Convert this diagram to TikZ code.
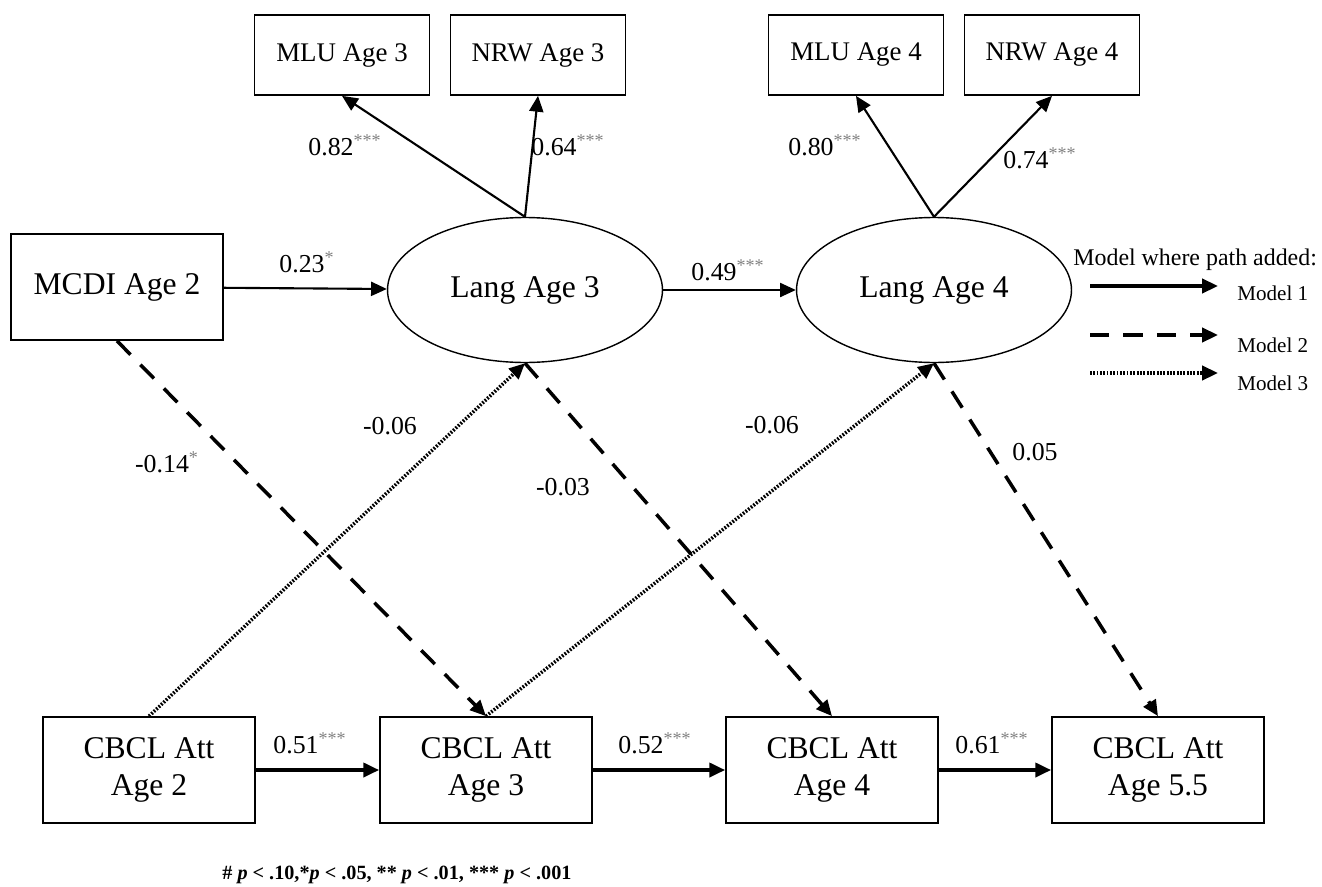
\documentclass[tikz,border=0pt]{standalone}
\usepackage{fontspec}
\setmainfont{Liberation Serif}
\usetikzlibrary{shapes.geometric,arrows.meta}
\newcommand{\stars}[1]{\textsuperscript{\color{gray}#1}}
\begin{document}
\begin{tikzpicture}[x=0.02cm, y=-0.02cm, >={Triangle[length=9pt,width=8pt]},
  box/.style={draw, line width=1pt, minimum width=4.24cm, minimum height=2.12cm, align=center, font=\fontsize{18}{21}\selectfont},
  smallbox/.style={draw, line width=1pt, minimum width=3.5cm, minimum height=1.6cm, font=\fontsize{15.3}{18}\selectfont},
  latent/.style={draw, ellipse, line width=0.8pt, minimum width=5.5cm, minimum height=2.9cm, inner sep=0pt, font=\fontsize{18}{21}\selectfont},
  coef/.style={inner sep=0pt, font=\fontsize{14.7}{17}\selectfont},
  model1/.style={->, line width=1.2pt},
  model1 thick/.style={->, line width=2pt},
  model2/.style={->, line width=2pt, dash pattern=on 11pt off 8pt},
  model3/.style={->, line width=2pt, dash pattern=on 1pt off 0.9pt}]
\useasboundingbox (0,0) rectangle (1322,886);
\node[smallbox] (mlu3) at (342,55) {MLU Age 3};
\node[smallbox] (nrw3) at (538,55) {NRW Age 3};
\node[smallbox] (mlu4) at (856,55) {MLU Age 4};
\node[smallbox] (nrw4) at (1052,55) {NRW Age 4};
\node[latent] (lang3) at (525,290) {Lang Age 3};
\node[latent] (lang4) at (934,290) {Lang Age 4};
\node[box] (mcdi) at (117,287) {MCDI Age 2};
\node[box] (cbcl2) at (149,770) {CBCL Att\\Age 2};
\node[box] (cbcl3) at (486,770) {CBCL Att\\Age 3};
\node[box] (cbcl4) at (832,770) {CBCL Att\\Age 4};
\node[box] (cbcl55) at (1158,770) {CBCL Att\\Age 5.5};
\node[coef] (c82) at (345,145) {0.82\stars{***}};
\node[coef] (c64) at (568,145) {0.64\stars{***}};
\node[coef] (c80) at (825,145) {0.80\stars{***}};
\node[coef] (c74) at (1040,158) {0.74\stars{***}};
\node[coef] (c23) at (307,262) {0.23\stars{*}};
\node[coef] (c49) at (728,270) {0.49\stars{***}};
\node[coef] (c14) at (167,462) {-0.14\stars{*}};
\node[coef] (c06a) at (390,426) {-0.06};
\node[coef] (c03) at (563,487) {-0.03};
\node[coef] (c06b) at (772,425) {-0.06};
\node[coef] (c05) at (1035,452) {0.05};
\node[coef] (c51) at (310,743) {0.51\stars{***}};
\node[coef] (c52) at (655,743) {0.52\stars{***}};
\node[coef] (c61) at (992,743) {0.61\stars{***}};
\node[anchor=west, inner sep=0pt, font=\fontsize{13.6}{16}\selectfont] (legend) at (1073,260) {Model where path added:};
\coordinate (m1a) at (1090,286);
\coordinate (m1b) at (1218,286);
\coordinate (m2a) at (1090,335);
\coordinate (m2b) at (1218,335);
\coordinate (m3a) at (1090,373);
\coordinate (m3b) at (1218,373);
\node[anchor=west, inner sep=0pt, font=\fontsize{12}{14}\selectfont] (mod1) at (1237,293) {Model 1};
\node[anchor=west, inner sep=0pt, font=\fontsize{12}{14}\selectfont] (mod2) at (1237,345) {Model 2};
\node[anchor=west, inner sep=0pt, font=\fontsize{12}{14}\selectfont] (mod3) at (1237,383) {Model 3};
\node[anchor=west, inner sep=0pt, font=\fontsize{11.5}{14}\selectfont\bfseries] (note) at (222,875) {\# \textit{p} < .10,*\textit{p} < .05, ** \textit{p} < .01, *** \textit{p} < .001};
\draw[model1] (lang3.north) -- (mlu3.south);
\draw[model1] (lang3.north) -- (nrw3.south);
\draw[model1] (lang4.north) -- (mlu4.south);
\draw[model1] (lang4.north) -- (nrw4.south);
\draw[model1] (mcdi) -- (lang3);
\draw[model1] (lang3) -- (lang4);
\draw[model1 thick] (cbcl2) -- (cbcl3);
\draw[model1 thick] (cbcl3) -- (cbcl4);
\draw[model1 thick] (cbcl4) -- (cbcl55);
\draw[model2] (mcdi.south) -- (cbcl3.north);
\draw[model2] (lang3.south) -- (cbcl4.north);
\draw[model2] (lang4.south) -- (cbcl55.north);
\draw[model3] (cbcl2.north) -- (lang3.south);
\draw[model3] (cbcl3.north) -- (lang4.south);
\draw[model1 thick] (m1a) -- (m1b);
\draw[model2] (m2a) -- (m2b);
\draw[model3] (m3a) -- (m3b);
\end{tikzpicture}
\end{document}
